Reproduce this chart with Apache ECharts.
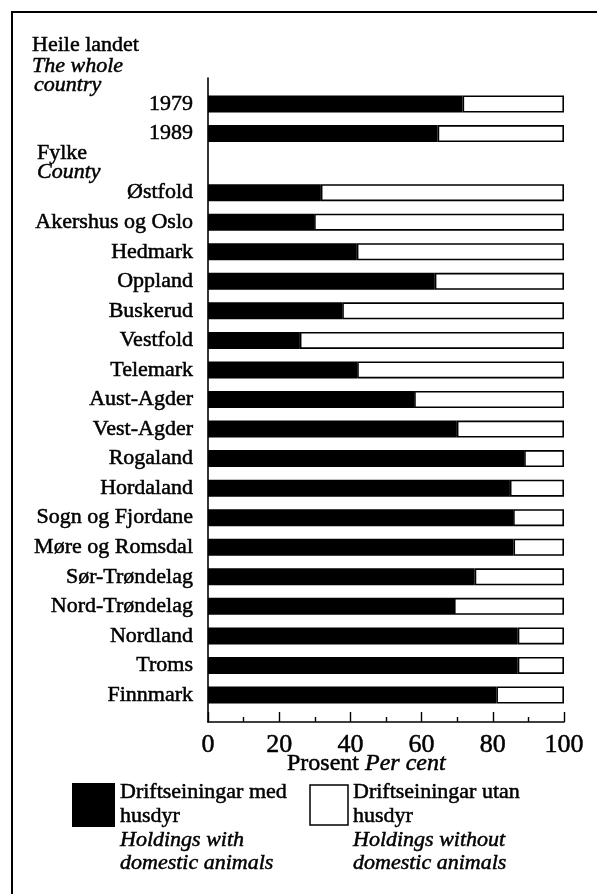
<!DOCTYPE html>
<html>
<head>
<meta charset="utf-8">
<script src="https://cdn.jsdelivr.net/npm/echarts@6/dist/echarts.min.js"></script>
<style>
html,body{margin:0;padding:0;background:#fff;}
#chart{width:597px;height:894px;}
</style>
</head>
<body>
<div id="chart"></div>
<script>
// Categories (blank entry separates the national totals from the counties)
const categories = ['1979', '1989', '', 'Østfold', 'Akershus og Oslo', 'Hedmark', 'Oppland', 'Buskerud',
  'Vestfold', 'Telemark', 'Aust-Agder', 'Vest-Agder', 'Rogaland', 'Hordaland', 'Sogn og Fjordane',
  'Møre og Romsdal', 'Sør-Trøndelag', 'Nord-Trøndelag', 'Nordland', 'Troms', 'Finnmark'];
// Per cent of holdings with domestic animals
const withAnimals = [71.5, 64.5, null, 31.7, 29.8, 41.8, 63.7, 37.7, 25.8, 41.9, 57.9, 69.9, 88.8, 84.8, 85.7, 85.8, 74.9, 69.1, 87.0, 87.0, 81.0];
// Per cent of holdings without domestic animals
const withoutAnimals = [28.5, 35.5, null, 68.3, 70.2, 58.2, 36.3, 62.3, 74.2, 58.1, 42.1, 30.1, 11.2, 15.2, 14.3, 14.2, 25.1, 30.9, 13.0, 13.0, 19.0];
const xTicks = [0, 20, 40, 60, 80, 100];
const seriesNames = ['Driftseiningar med husdyr', 'Driftseiningar utan husdyr'];

const SERIF = '"Liberation Serif", "DejaVu Serif", serif';
const INK = 0.5; // slight stroke to mimic the heavy printed type
const chart = echarts.init(document.getElementById('chart'), null, {renderer: 'canvas'});

function txt(text, x, y, size, italic, align) {
  return {
    type: 'text', silent: true,
    style: {
      text: text, x: x, y: y,
      font: (italic ? 'italic ' : '') + size + 'px ' + SERIF,
      fill: '#000', stroke: '#000', lineWidth: INK,
      textAlign: align || 'left', textVerticalAlign: 'middle'
    }
  };
}

const option = {
  animation: false,
  backgroundColor: '#fff',
  grid: [
    {left: 208, right: 33, top: 89.2, bottom: 184.2},
    {left: 208, right: 33, top: 78, bottom: 172}
  ],
  xAxis: [
    {gridIndex: 0, type: 'value', min: 0, max: 100, show: false},
    {
      gridIndex: 1, type: 'value', min: xTicks[0], max: xTicks[xTicks.length - 1], interval: 20,
      axisLine: {show: true, lineStyle: {color: '#000', width: 1.6}},
      axisTick: {show: true, inside: true, length: 10, lineStyle: {color: '#000', width: 1.4}},
      minorTick: {show: true, splitNumber: 2, length: 5, lineStyle: {color: '#000', width: 1.4}},
      splitLine: {show: false},
      axisLabel: {color: '#000', fontSize: 26, fontFamily: SERIF, margin: 10,
        textBorderColor: '#000', textBorderWidth: INK}
    }
  ],
  yAxis: [
    {
      gridIndex: 0, type: 'category', data: categories, inverse: true,
      axisLine: {show: false}, axisTick: {show: false}, splitLine: {show: false},
      axisLabel: {color: '#000', fontSize: 22, fontFamily: SERIF, margin: 15,
        textBorderColor: '#000', textBorderWidth: INK}
    },
    {
      gridIndex: 1, type: 'value', min: 0, max: 1,
      axisLine: {show: true, lineStyle: {color: '#000', width: 1.6}},
      axisTick: {show: false}, axisLabel: {show: false}, splitLine: {show: false}
    }
  ],
  series: [
    {
      name: seriesNames[0], type: 'bar', stack: 'total', xAxisIndex: 0, yAxisIndex: 0,
      data: withAnimals, barWidth: 17,
      itemStyle: {color: '#000'}
    },
    {
      name: seriesNames[1], type: 'bar', stack: 'total', xAxisIndex: 0, yAxisIndex: 0,
      data: withoutAnimals, barWidth: 17,
      itemStyle: {color: '#fff', borderColor: '#000', borderWidth: 1.6}
    }
  ],
  graphic: [
    {type: 'polyline', silent: true, shape: {points: [[12, 894], [12, 12], [597, 12]]},
      style: {stroke: '#000', lineWidth: 2, fill: null}},
    txt('Heile landet', 32, 45.5, 22, false),
    txt('The whole', 32, 66.5, 22, true),
    txt('country', 34, 85, 22, true),
    txt('Fylke', 37, 153, 22, false),
    txt('County', 37, 172.5, 22, true),
    txt('Prosent', 287, 764, 24, false),
    txt('Per cent', 365, 764, 24, true),
    {type: 'rect', silent: true, shape: {x: 72, y: 783, width: 43, height: 44}, style: {fill: '#000'}},
    txt('Driftseiningar med', 120, 792.5, 22, false),
    txt('husdyr', 120, 816.5, 22, false),
    txt('Holdings with', 120, 840.5, 22, true),
    txt('domestic animals', 120, 863.5, 22, true),
    {type: 'rect', silent: true, shape: {x: 310, y: 785, width: 38, height: 40}, style: {fill: '#fff', stroke: '#000', lineWidth: 1.5}},
    txt('Driftseiningar utan', 353, 792.5, 22, false),
    txt('husdyr', 353, 816.5, 22, false),
    txt('Holdings without', 353, 840.5, 22, true),
    txt('domestic animals', 353, 863.5, 22, true)
  ]
};
chart.setOption(option);
</script>
</body>
</html>
